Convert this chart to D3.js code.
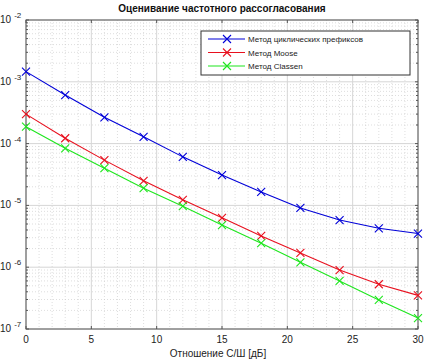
<!DOCTYPE html>
<html>
<head>
<meta charset="utf-8">
<script src="https://cdn.jsdelivr.net/npm/d3@7"></script>
<style>
    body { margin: 0; background: #fff; }
    text { font-family: "Liberation Sans", Arial, sans-serif; }
</style>
</head>
<body>
<div id="chart"></div>
<script>
// данные
const snr = [0, 3, 6, 9, 12, 15, 18, 21, 24, 27, 30]
const cyclicPrefix = [1.46e-3, 6.1e-4, 2.66e-4, 1.29e-4, 6.1e-5, 3.1e-5, 1.65e-5, 9.1e-6, 5.8e-6, 4.26e-6, 3.5e-6]
const moose = [3.0e-4, 1.22e-4, 5.4e-5, 2.5e-5, 1.23e-5, 6.3e-6, 3.2e-6, 1.7e-6, 9.0e-7, 5.3e-7, 3.5e-7]
const classen = [1.88e-4, 8.4e-5, 4.0e-5, 1.9e-5, 9.7e-6, 4.8e-6, 2.45e-6, 1.2e-6, 6.0e-7, 2.95e-7, 1.5e-7]
const seriesNames = ["Метод циклических префиксов", "Метод Moose", "Метод Classen"]
const xTicks = [0, 5, 10, 15, 20, 25, 30]
const yExps = [-2, -3, -4, -5, -6, -7]

const width = 425, height = 361
const margin = { top: 20, right: 7, bottom: 32, left: 26 }
const plot_w = width - margin.left - margin.right,
    plot_h = height - margin.top - margin.bottom

const colors = ["#0000d8", "#e8101e", "#1ee61e"]
const series = [cyclicPrefix, moose, classen]

let svg = d3.select("#chart").append("svg")
    .attr("width", width)
    .attr("height", height)

let x = d3.scaleLinear().domain([0, 30]).range([0, plot_w])
let y = d3.scaleLog().domain([1e-7, 1e-2]).range([plot_h, 0])

let g = svg.append("g")
    .attr("transform", "translate(" + margin.left + "," + margin.top + ")")

// мелкая сетка
let minorY = []
yExps.slice(1).forEach(e => {
    for (let k = 2; k <= 9; k++) minorY.push(k * Math.pow(10, e))
})
let minorX = d3.range(0, 31, 1).filter(d => d % 5 != 0)

g.selectAll(".minorY").data(minorY).enter().append("line")
    .attr("x1", 0).attr("x2", plot_w)
    .attr("y1", d => y(d)).attr("y2", d => y(d))
    .attr("stroke", "#c8c8c8").attr("stroke-width", 0.6)
    .attr("stroke-dasharray", "1,2")
g.selectAll(".minorX").data(minorX).enter().append("line")
    .attr("y1", 0).attr("y2", plot_h)
    .attr("x1", d => x(d)).attr("x2", d => x(d))
    .attr("stroke", "#c8c8c8").attr("stroke-width", 0.6)
    .attr("stroke-dasharray", "1,2")

// основная сетка
g.selectAll(".majorY").data(yExps).enter().append("line")
    .attr("x1", 0).attr("x2", plot_w)
    .attr("y1", d => y(Math.pow(10, d))).attr("y2", d => y(Math.pow(10, d)))
    .attr("stroke", "#d6d6d6").attr("stroke-width", 1)
g.selectAll(".majorX").data(xTicks).enter().append("line")
    .attr("y1", 0).attr("y2", plot_h)
    .attr("x1", d => x(d)).attr("x2", d => x(d))
    .attr("stroke", "#d6d6d6").attr("stroke-width", 1)

// засечки внутрь
let tickLen = 3
xTicks.forEach(d => {
    g.append("line").attr("x1", x(d)).attr("x2", x(d)).attr("y1", plot_h).attr("y2", plot_h - tickLen)
        .attr("stroke", "#555")
    g.append("line").attr("x1", x(d)).attr("x2", x(d)).attr("y1", 0).attr("y2", tickLen)
        .attr("stroke", "#555")
})
yExps.concat(minorY.map(d => Math.log10(d))).forEach(e => {
    let v = y(Math.pow(10, e))
    let len = Number.isInteger(e) ? tickLen : 2
    g.append("line").attr("x1", 0).attr("x2", len).attr("y1", v).attr("y2", v).attr("stroke", "#555")
    g.append("line").attr("x1", plot_w).attr("x2", plot_w - len).attr("y1", v).attr("y2", v).attr("stroke", "#555")
})

// рамка
g.append("rect")
    .attr("width", plot_w).attr("height", plot_h)
    .attr("fill", "none").attr("stroke", "#555").attr("stroke-width", 1)

// подписи оси X
g.selectAll(".xlab").data(xTicks).enter().append("text")
    .attr("x", d => x(d)).attr("y", plot_h + 14)
    .attr("text-anchor", "middle")
    .attr("font-size", 10).attr("fill", "#222")
    .text(d => d)

// подписи оси Y
let ylab = g.selectAll(".ylab").data(yExps).enter().append("text")
    .attr("x", -26).attr("y", d => y(Math.pow(10, d)) + 3)
    .attr("font-size", 10).attr("fill", "#222")
ylab.append("tspan").text("10")
ylab.append("tspan").attr("dx", 3).attr("dy", -5).attr("font-size", 8).text(d => "-" + Math.abs(d))

// линии
let line = d3.line().x((d, i) => x(snr[i])).y(d => y(d))
let ms = 4
series.forEach((s, k) => {
    g.append("path").datum(s)
        .attr("d", line)
        .attr("fill", "none").attr("stroke", colors[k]).attr("stroke-width", 1.1)
    g.selectAll(".m" + k).data(s).enter().append("path")
        .attr("d", (d, i) => {
            let cx = x(snr[i]), cy = y(d)
            return "M" + (cx - ms) + "," + (cy - ms) + "L" + (cx + ms) + "," + (cy + ms) +
                "M" + (cx - ms) + "," + (cy + ms) + "L" + (cx + ms) + "," + (cy - ms)
        })
        .attr("stroke", colors[k]).attr("stroke-width", 1.1).attr("fill", "none")
})

// легенда
let lg = g.append("g").attr("transform", "translate(" + 175 + "," + 11 + ")")
lg.append("rect")
    .attr("width", 209).attr("height", 44)
    .attr("fill", "#fff").attr("stroke", "#333").attr("stroke-width", 1)
seriesNames.forEach((name, k) => {
    let ly = 8 + k * 13.5
    lg.append("line").attr("x1", 7).attr("x2", 44).attr("y1", ly).attr("y2", ly)
        .attr("stroke", colors[k]).attr("stroke-width", 1.1)
    lg.append("path")
        .attr("d", "M" + (26 - ms) + "," + (ly - ms) + "L" + (26 + ms) + "," + (ly + ms) +
            "M" + (26 - ms) + "," + (ly + ms) + "L" + (26 + ms) + "," + (ly - ms))
        .attr("stroke", colors[k]).attr("stroke-width", 1.1)
    lg.append("text").attr("x", 47).attr("y", ly + 3)
        .attr("font-size", 8).attr("fill", "#222")
        .text(name)
})

// заголовок и подпись оси
svg.append("text")
    .attr("x", margin.left + plot_w / 2).attr("y", 12)
    .attr("text-anchor", "middle")
    .attr("font-size", 10).attr("font-weight", "bold").attr("fill", "#111")
    .text("Оценивание частотного рассогласования")
svg.append("text")
    .attr("x", margin.left + plot_w / 2 - 4).attr("y", 357)
    .attr("text-anchor", "middle")
    .attr("font-size", 10).attr("fill", "#222")
    .text("Отношение С/Ш [дБ]")
</script>
</body>
</html>
